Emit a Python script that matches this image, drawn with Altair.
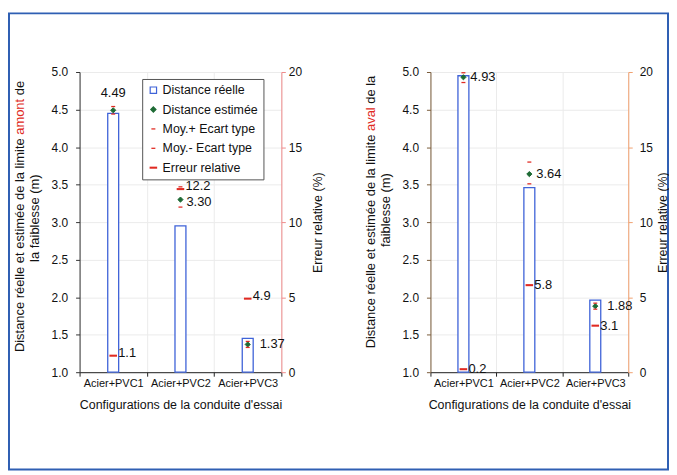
import altair as alt
import pandas as pd

FONT = "Liberation Sans"

configs = ["Acier+PVC1", "Acier+PVC2", "Acier+PVC3"]
series_names = ["Distance réelle", "Distance estimée", "Moy.+ Ecart type",
                "Moy.- Ecart type", "Erreur relative"]

# Left panel: limite amont
amont_reelle = [4.45, 2.95, 1.45]
amont_estimee = [4.49, 3.30, 1.37]
amont_moy_plus = [4.54, 3.47, 1.41]
amont_moy_moins = [4.44, 3.20, 1.33]
amont_erreur = [1.1, 12.2, 4.9]

# Right panel: limite aval
aval_reelle = [4.95, 3.46, 1.96]
aval_estimee = [4.93, 3.64, 1.88]
aval_moy_plus = [4.99, 3.80, 1.92]
aval_moy_moins = [4.86, 3.51, 1.84]
aval_erreur = [0.2, 5.8, 3.1]

y_ticks_left = [1.0, 1.5, 2.0, 2.5, 3.0, 3.5, 4.0, 4.5, 5.0]
y_ticks_right = [0, 5, 10, 15, 20]

x_title = "Configurations de la conduite d'essai"
y2_title = "Erreur relative (%)"

BLUE = "#3f63d8"
GREEN = "#1e6b35"
RED = "#e02a22"

fill_range = ["white", GREEN, RED, RED, RED]
stroke_range = [BLUE, GREEN, "transparent", "transparent", "transparent"]
shape_range = [
    "M-0.8,-0.8H0.8V0.8H-0.8Z",
    "M0,-0.65L0.65,0L0,0.65L-0.65,0Z",
    "M-0.5,-0.16H0.5V0.16H-0.5Z",
    "M-0.5,-0.16H0.5V0.16H-0.5Z",
    "M-0.95,-0.26H0.95V0.26H-0.95Z",
]


def build_df(reelle, estimee, plus, moins, erreur):
    rows = []
    for name, vals in zip(series_names, [reelle, estimee, plus, moins, erreur]):
        for c, v in zip(configs, vals):
            rows.append({"config": c, "series": name, "value": v})
    return pd.DataFrame(rows)


def panel(df, width, height, left_axis_color, right_axis_color, ylab_pad,
          rlab_pad, rtitle_pad, title_parts, line2, line2_y, est_labels,
          err_dy, show_legend, frame=False):
    base = alt.Chart(df)
    x = alt.X("config:N", sort=configs,
              scale=alt.Scale(domain=configs, paddingInner=0, paddingOuter=0),
              axis=alt.Axis(title=x_title, labelAngle=0, tickBand="extent",
                            grid=True, gridColor="#ebebeb", domainColor="#222",
                            tickColor="#222", tickSize=4, labelPadding=1,
                            labelFontSize=11, titleFontSize=12.5,
                            titlePadding=11, labelColor="#111"))
    yscale = alt.Scale(domain=[1, 5], zero=False, nice=False)
    yL = alt.Y("value:Q", scale=yscale,
               axis=alt.Axis(values=y_ticks_left, format=".1f", title=None,
                             grid=True, gridColor="#ebebeb",
                             domainColor=left_axis_color,
                             tickColor=left_axis_color, tickSize=4,
                             labelPadding=ylab_pad, labelFontSize=12,
                             labelColor="#111"))
    yR = alt.Y("value:Q", scale=alt.Scale(domain=[0, 20], nice=False),
               axis=alt.Axis(values=y_ticks_right, orient="right",
                             title=y2_title, grid=False, titleAngle=270,
                             titleBaseline="middle",
                             domainColor=right_axis_color,
                             tickColor=right_axis_color, tickSize=4,
                             labelPadding=rlab_pad, labelFontSize=12,
                             titleFontSize=12.5, titlePadding=rtitle_pad,
                             labelColor="#111"))
    if show_legend:
        leg = alt.Legend(orient="none", legendX=63, legendY=7, title=None,
                         strokeColor="#555", fillColor="white", padding=5,
                         rowPadding=6.5, symbolSize=64, labelFontSize=12.5,
                         labelFont=FONT, symbolStrokeWidth=1.2, labelOffset=3,
                         labelColor="#111")
    else:
        leg = None
    fill = alt.Fill("series:N", scale=alt.Scale(domain=series_names, range=fill_range), legend=leg)
    stroke = alt.Stroke("series:N", scale=alt.Scale(domain=series_names, range=stroke_range), legend=leg)
    shape = alt.Shape("series:N", scale=alt.Scale(domain=series_names, range=shape_range), legend=leg)

    bars = base.transform_filter(alt.datum.series == "Distance réelle").mark_bar(
        size=11, strokeWidth=1.3).encode(x=x, y=yL, y2=alt.datum(1), fill=fill, stroke=stroke)
    pts = base.transform_filter(
        alt.FieldOneOfPredicate(field="series", oneOf=series_names[1:4])
    ).mark_point(filled=True, size=64, opacity=1, strokeWidth=1).encode(
        x=x, y=yL, fill=fill, stroke=stroke, shape=shape)

    texts = []
    for cfg, align, dx, dy in est_labels:
        texts.append(base.transform_filter(
            (alt.datum.series == "Distance estimée") & (alt.datum.config == cfg)
        ).mark_text(align=align, baseline="middle", dx=dx, dy=dy, fontSize=13,
                    font=FONT, color="#111").encode(
            x=x, y=yL, text=alt.Text("value:Q", format=".2f")))

    left_group = alt.layer(bars, pts, *texts)

    err = base.transform_filter(alt.datum.series == "Erreur relative")
    err_pts = err.mark_point(filled=True, size=64, opacity=1, strokeWidth=1).encode(
        x=x, y=yR, fill=fill, stroke=stroke, shape=shape)
    err_txt = err.mark_text(align="left", baseline="middle", dx=5, dy=err_dy,
                            fontSize=13, font=FONT, color="#111").encode(
        x=x, y=yR, text=alt.Text("value:Q", format=".1f"))
    right_group = alt.layer(err_pts, err_txt)

    one = pd.DataFrame({"k": [0]})
    deco = []
    for txt, color, align, yy in title_parts:
        deco.append(alt.Chart(one).mark_text(
            text=txt, angle=270, align=align, baseline="middle", fontSize=13,
            font=FONT, color=color).encode(x=alt.value(-60), y=alt.value(yy)))
    deco.append(alt.Chart(one).mark_text(
        text=line2, angle=270, align="center", baseline="middle", fontSize=13,
        font=FONT, color="#111").encode(x=alt.value(-45), y=alt.value(line2_y)))
    if frame:
        deco.append(alt.Chart(one).mark_rect(
            fillOpacity=0, stroke="#2f5fb3", strokeWidth=2).encode(
            x=alt.value(-71), x2=alt.value(592), y=alt.value(-59), y2=alt.value(400)))

    return alt.layer(left_group, right_group, *deco).resolve_scale(
        y="independent").properties(width=width, height=height)


df_amont = build_df(amont_reelle, amont_estimee, amont_moy_plus, amont_moy_moins, amont_erreur)
df_aval = build_df(aval_reelle, aval_estimee, aval_moy_plus, aval_moy_moins, aval_erreur)

left = panel(
    df_amont, 203, 302, "#333", "#f08a8a", 8, 3, 16,
    [("Distance réelle et estimée de la limite", "#111", "right", 66.7),
     ("amont", RED, "left", 63.1),
     ("de", "#111", "left", 23.4)],
    "la faiblesse  (m)", 147,
    [("Acier+PVC1", "center", 0, -17),
     ("Acier+PVC2", "left", 6, 2),
     ("Acier+PVC3", "left", 12, 0)],
    -3, True, frame=True)

right = panel(
    df_aval, 199, 302, "#7a5c3a", "#f0a070", 8, 7, 10,
    [("Distance réelle et estimée de la limite", "#111", "right", 62.9),
     ("aval", RED, "left", 59.3),
     ("de la", "#111", "left", 31.9)],
    "faiblesse (m)", 139,
    [("Acier+PVC1", "left", 7, 0),
     ("Acier+PVC2", "left", 7, 0),
     ("Acier+PVC3", "left", 12, 0)],
    0, False)

chart = alt.hconcat(left, right, spacing=150, bounds="flush").resolve_scale(
    fill="independent", stroke="independent", shape="independent"
).properties(
    padding={"left": 0, "top": 3, "right": 0, "bottom": 0}
).configure_view(stroke=None).configure_axis(
    labelFont=FONT, titleFont=FONT, titleFontWeight="normal", titleColor="#111"
).configure_text(font=FONT)

chart.save("out.html", embed_options={"renderer": "svg", "actions": False})
